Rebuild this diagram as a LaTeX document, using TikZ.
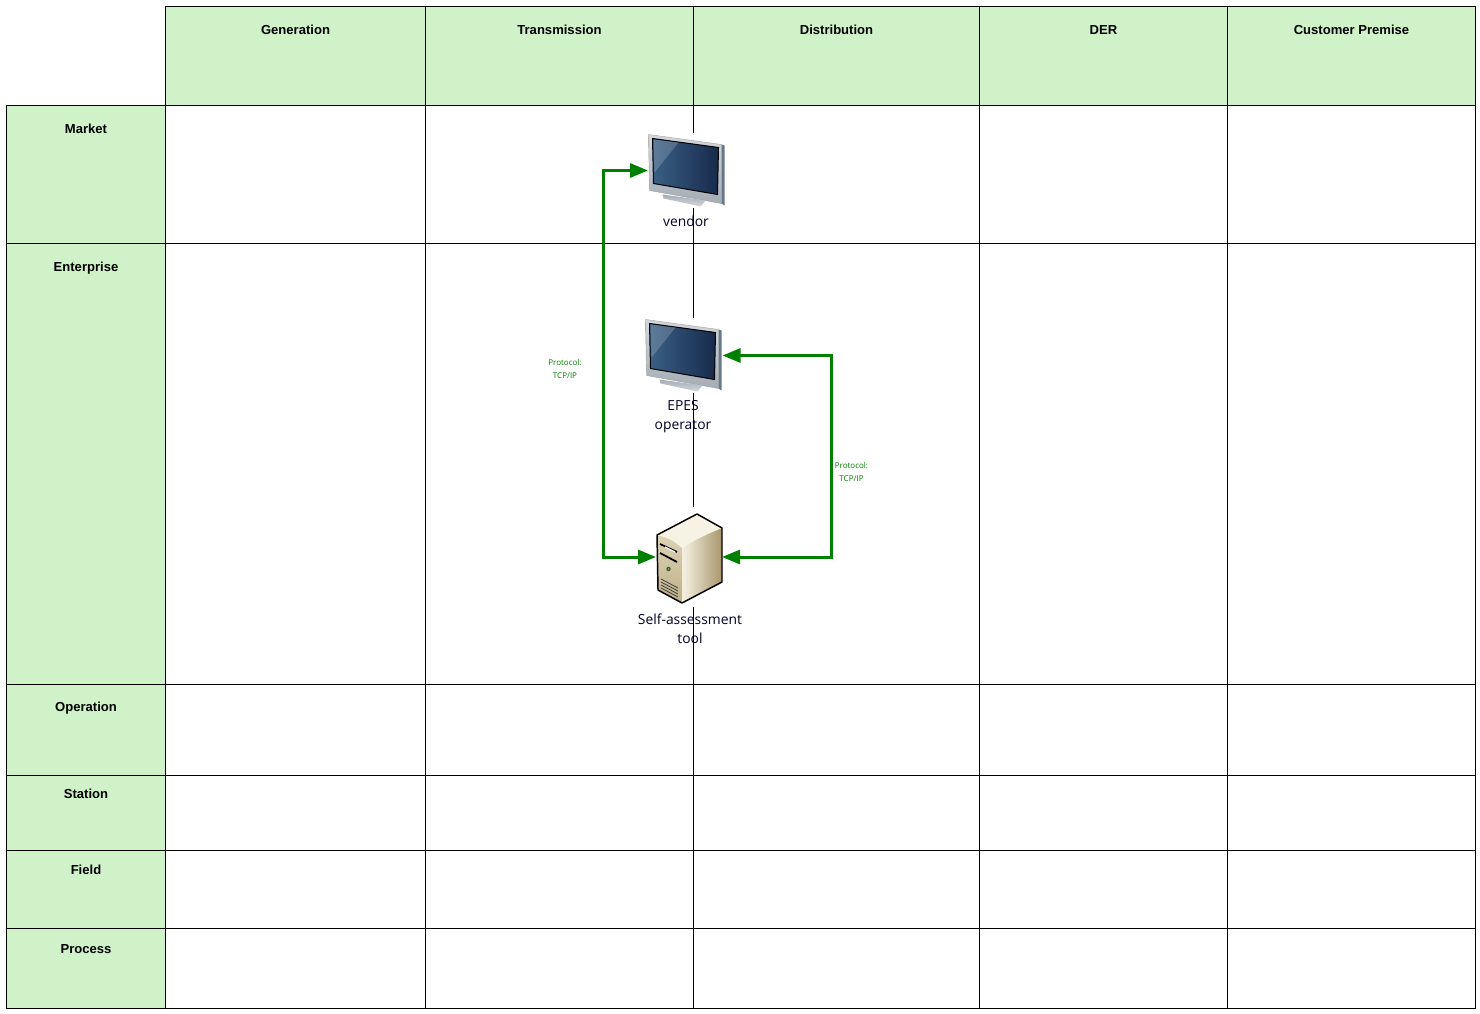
\documentclass[tikz,border=0pt]{standalone}
\usepackage{fontspec}
\setmainfont{Liberation Sans}
\newfontfamily\iconfont{Open Sans}
\usepackage{xcolor}
\usetikzlibrary{arrows.meta,positioning}
\definecolor{cellgreen}{HTML}{D0F2C8}
\definecolor{flowgreen}{HTML}{008000}
\definecolor{screenlight}{HTML}{3A5F85}
\definecolor{screendark}{HTML}{172B4C}
\definecolor{frametop}{HTML}{D4D8DC}
\definecolor{framelow}{HTML}{A4ACB4}
\definecolor{frameside}{HTML}{66788A}
\definecolor{casefront}{HTML}{DDD3B4}
\definecolor{caselow}{HTML}{BDB08A}
\definecolor{casetop}{HTML}{F6F2E4}
\definecolor{caseside}{HTML}{A8966C}
\def\px{0.75pt}

\tikzset{
  monitor/.pic={
    \shade[top color=frametop,bottom color=framelow,draw=gray!75,line width=0.3pt]
      (-38,-36) -- (35,-26) -- (35,33) -- (-37,20) -- cycle;
    \fill[frameside] (35,-26) -- (38,-25) -- (38,35) -- (35,33) -- cycle;
    \shade[top color=framelow,bottom color=frametop] (-24,24) -- (-23,28) -- (14,36) -- (19,30) -- cycle;
    \shade[left color=screenlight,right color=screendark,draw=black,line width=0.75pt]
      (-34,-32) -- (32,-23) -- (31,24) -- (-33,13) -- cycle;
    \fill[white,opacity=0.18] (-33,-31) -- (-8,-28) -- (-32,2) -- cycle;
  },
  server/.pic={
    \shade[left color=casetop,right color=caseside]
      (-7,-9) .. controls (5,-17) and (20,-24) .. (33,-29) -- (33,25) -- (-7,46) -- cycle;
    \shade[top color=casefront,bottom color=caselow]
      (-32,-22) .. controls (-22,-20) and (-14,-16) .. (-7,-9) -- (-7,46) -- (-31,33) -- cycle;
    \fill[casetop] (-32,-22) -- (8,-43) -- (33,-29)
      .. controls (20,-24) and (5,-17) .. (-7,-9) .. controls (-14,-16) and (-22,-20) .. cycle;
    \draw[black,line width=1.1pt,line join=round]
      (-32,-22) -- (8,-43) -- (33,-29) -- (33,25) -- (-7,46) -- (-31,33) -- cycle;
    \draw[black,line width=1.3pt] (-29,-13) -- (-12,-5) (-29,-4) -- (-12,5);
    \draw[white,line width=1pt] (-24,-10) -- (-14,-5);
    \fill[black!70] (-20.5,12) circle (2.2);
    \fill[green!50!gray] (-20.5,12) circle (1);
    \draw[black!75,line width=0.6pt] (-28,22) -- (-11,31) (-28,25) -- (-11,34)
      (-28,28) -- (-11,37) (-28,31) -- (-11,40);
  },
}

\begin{document}
\begin{tikzpicture}[x=\px,y=-\px,>={Triangle[length=13.5pt,width=10.5pt]}]
    \tikzstyle{headcell}=[rectangle,draw=black,line width=0.75pt,fill=cellgreen,inner sep=0pt,outer sep=0pt]
    \tikzstyle{celltext}=[anchor=center,font=\fontsize{9.8}{12}\selectfont\bfseries,inner sep=0pt]
    \tikzstyle{gridline}=[black,line width=0.75pt]
    \tikzstyle{iconbox}=[rectangle,fill=white,inner sep=0pt,outer sep=0pt]
    \tikzstyle{icontext}=[align=center,font=\iconfont\fontsize{10.4}{14.2}\selectfont,inner sep=0pt,text=black!85!blue]
    \tikzstyle{flowtext}=[align=center,font=\iconfont\fontsize{6}{9.7}\selectfont,inner sep=0pt,text=flowgreen]
    \tikzstyle{flow}=[<->,flowgreen,line width=2.25pt]

    \useasboundingbox (0,0) rectangle (1480,1013);

    % column heads
    \node [headcell,minimum width=260*\px,minimum height=98.5*\px,label={[celltext,yshift=-23*\px]north:Generation}] (generation) at (295.5,56.25) {};
    \node [headcell,minimum width=268*\px,minimum height=98.5*\px,label={[celltext,yshift=-23*\px]north:Transmission}] (transmission) at (559.5,56.25) {};
    \node [headcell,minimum width=286*\px,minimum height=98.5*\px,label={[celltext,yshift=-23*\px]north:Distribution}] (distribution) at (836.5,56.25) {};
    \node [headcell,minimum width=248*\px,minimum height=98.5*\px,label={[celltext,yshift=-23*\px]north:DER}] (der) at (1103.5,56.25) {};
    \node [headcell,minimum width=248*\px,minimum height=98.5*\px,label={[celltext,yshift=-23*\px]north:Customer Premise}] (customer) at (1351.5,56.25) {};

    % row heads
    \node [headcell,minimum width=159*\px,minimum height=138*\px,label={[celltext,yshift=-23.5*\px]north:Market}] (market) at (86,174.5) {};
    \node [headcell,minimum width=159*\px,minimum height=441*\px,label={[celltext,yshift=-24.5*\px]north:Enterprise}] (enterprise) at (86,464) {};
    \node [headcell,minimum width=159*\px,minimum height=91*\px,label={[celltext,yshift=-23.5*\px]north:Operation}] (operation) at (86,730) {};
    \node [headcell,minimum width=159*\px,minimum height=75*\px,label={[celltext,yshift=-18.5*\px]north:Station}] (station) at (86,813) {};
    \node [headcell,minimum width=159*\px,minimum height=78*\px,label={[celltext,yshift=-19.5*\px]north:Field}] (field) at (86,889.5) {};
    \node [headcell,minimum width=159*\px,minimum height=80*\px,label={[celltext,yshift=-20.5*\px]north:Process}] (process) at (86,968.5) {};

    % grid of the body
    \draw [gridline] (generation.south east) -- (generation.south east |- process.south);
    \draw [gridline] (transmission.south east) -- (transmission.south east |- process.south);
    \draw [gridline] (distribution.south east) -- (distribution.south east |- process.south);
    \draw [gridline] (der.south east) -- (der.south east |- process.south);
    \draw [gridline] (customer.south east) -- (customer.south east |- process.south);
    \draw [gridline] (market.south east) -- (market.south -| customer.east);
    \draw [gridline] (enterprise.south east) -- (enterprise.south -| customer.east);
    \draw [gridline] (operation.south east) -- (operation.south -| customer.east);
    \draw [gridline] (station.south east) -- (station.south -| customer.east);
    \draw [gridline] (field.south east) -- (field.south -| customer.east);
    \draw [gridline] (process.south east) -- (process.south -| customer.east);

    % icons
    \node [iconbox,minimum width=77*\px,minimum height=75*\px] (vendor) at (686.5,170.5) {};
    \node [iconbox,minimum width=78*\px,minimum height=75*\px] (epes) at (683.5,355.5) {};
    \node [iconbox,minimum width=66*\px,minimum height=100*\px] (tool) at (689,557) {};
    \pic at (vendor) {monitor};
    \pic at (epes) {monitor};
    \pic at (tool) {server};

    \node [icontext] (vendorlabel) at (686,221.5) {vendor};
    \node [icontext] (epeslabel) at (683,417) {EPES\\operator};
    \node [icontext] (toollabel) at (690,628.5) {Self-assessment\\tool};

    % links
    \coordinate (leftbus) at (603.5,557);
    \coordinate (rightbus) at (831.5,557);
    \draw [flow] (tool.west) -- (leftbus) |- (vendor.west);
    \draw [flow] (tool.east) -- (rightbus) |- (epes.east);

    \node [flowtext] (leftproto) at (565,369) {Protocol:\\TCP/IP};
    \node [flowtext] (rightproto) at (851.5,472) {Protocol:\\TCP/IP};
\end{tikzpicture}
\end{document}
